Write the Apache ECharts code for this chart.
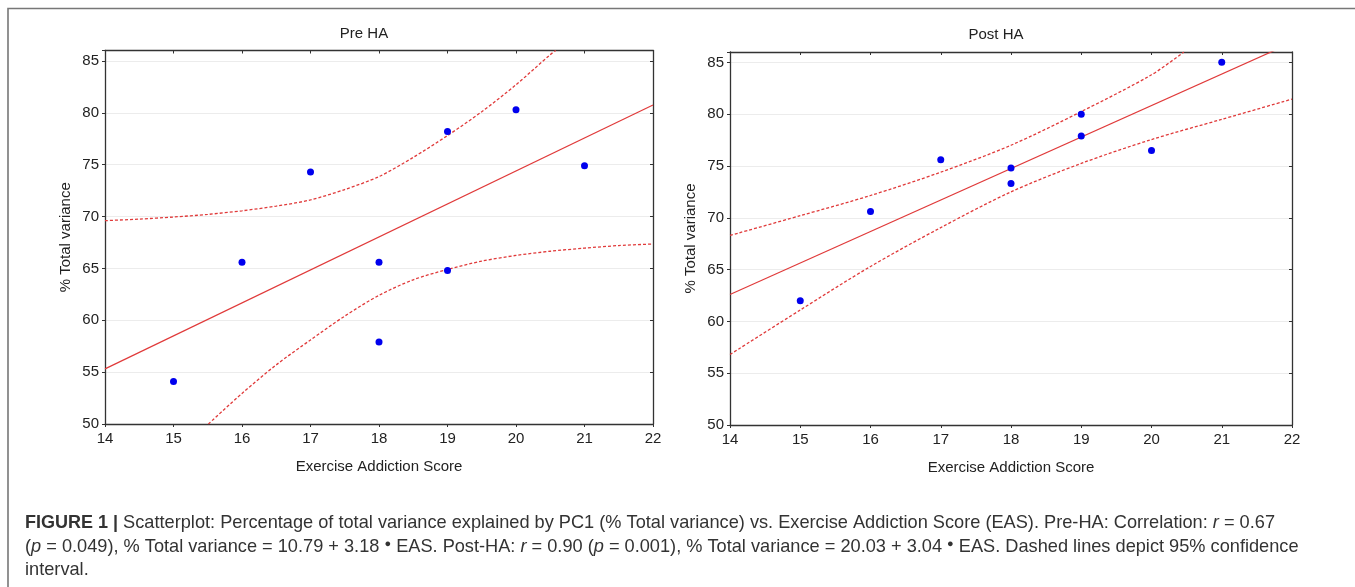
<!DOCTYPE html>
<html>
<head>
<meta charset="utf-8">
<title>Figure 1</title>
<script src="https://cdn.jsdelivr.net/npm/echarts@6/dist/echarts.min.js"></script>
<style>
  html, body { margin: 0; padding: 0; background: #fff; }
  #chart { width: 1355px; height: 587px; }
</style>
</head>
<body>
<div id="chart"></div>
<script>
// x ticks / y ticks
var xTicks = [14, 15, 16, 17, 18, 19, 20, 21, 22];
var yTicks = [50, 55, 60, 65, 70, 75, 80, 85];

// Pre HA observations
var preX = [15, 16, 17, 18, 18, 19, 19, 20, 21];
var preY = [54.1, 65.6, 74.3, 65.6, 57.9, 78.2, 64.8, 80.3, 74.9];
// fitted line (10.79 + 3.18 * EAS) at both ends of the axis
var preFitX = [14, 22];
var preFitY = [55.31, 80.75];
// 95% band
var preUpX = [14, 14.5, 15, 15.5, 16, 16.5, 17, 17.5, 18, 18.5, 19, 19.5, 20, 20.5, 20.58];
var preUpY = [69.6, 69.75, 69.95, 70.2, 70.55, 71.0, 71.6, 72.6, 73.85, 75.7, 77.8, 80.1, 82.7, 85.6, 86];
var preLoX = [15.51, 16, 16.5, 17, 17.5, 18, 18.5, 19, 19.5, 20, 20.5, 21, 21.5, 22];
var preLoY = [50, 52.95, 55.7, 58.1, 60.4, 62.4, 63.9, 64.9, 65.7, 66.25, 66.65, 66.95, 67.2, 67.35];

// Post HA observations
var postX = [15, 16, 17, 18, 18, 19, 19, 20, 21];
var postY = [62.0, 70.6, 75.6, 74.8, 73.3, 80.0, 77.9, 76.5, 85.0];
// fitted line (20.03 + 3.04 * EAS)
var postFitX = [14, 22];
var postFitY = [62.59, 86.91];
var postUpX = [14, 15, 16, 17, 18, 19, 20, 20.46];
var postUpY = [68.3, 70.2, 72.15, 74.4, 77.0, 80.25, 83.8, 86];
var postLoX = [14, 15, 16, 17, 18, 19, 20, 21, 22];
var postLoY = [56.8, 61.1, 65.3, 69.05, 72.5, 75.25, 77.55, 79.5, 81.45];

var FONT = '"Liberation Sans", Arial, sans-serif';
var RED = '#e03a3a';
var BLUE = '#0000ee';
var FRAME = '#333';

function pairs(xs, ys) {
  return xs.map(function (x, i) { return [x, ys[i]]; });
}

function xAxes(g) {
  return [
    {
      type: 'value', gridIndex: g, min: 14, max: 22, interval: 1,
      name: 'Exercise Addiction Score', nameLocation: 'middle', nameGap: 35,
      nameTextStyle: { fontFamily: FONT, fontSize: 15, color: '#222' },
      axisLine: { show: true, onZero: false, lineStyle: { color: FRAME, width: 1.3 } },
      axisTick: { show: true, inside: false, length: 3, lineStyle: { color: FRAME } },
      axisLabel: { fontFamily: FONT, fontSize: 15, color: '#222', margin: 7 },
      splitLine: { show: false }
    },
    {
      type: 'value', gridIndex: g, position: 'top', min: 14, max: 22, interval: 1,
      axisLine: { show: true, onZero: false, lineStyle: { color: FRAME, width: 1.3 } },
      axisTick: { show: true, inside: true, length: 3, lineStyle: { color: FRAME } },
      axisLabel: { show: false },
      splitLine: { show: false }
    }
  ];
}

function yAxes(g) {
  return [
    {
      type: 'value', gridIndex: g, min: 50, max: 86, interval: 5,
      name: '% Total variance', nameLocation: 'middle', nameGap: 32,
      nameTextStyle: { fontFamily: FONT, fontSize: 15, color: '#222' },
      axisLine: { show: true, onZero: false, lineStyle: { color: FRAME, width: 1.3 } },
      axisTick: { show: true, inside: false, length: 3, lineStyle: { color: FRAME } },
      axisLabel: {
        fontFamily: FONT, fontSize: 15, color: '#222', margin: 6,
        formatter: function (v) { return yTicks.indexOf(v) >= 0 ? String(v) : ''; }
      },
      splitLine: { show: true, lineStyle: { color: '#ececec', width: 1 } }
    },
    {
      type: 'value', gridIndex: g, position: 'right', min: 50, max: 86, interval: 5,
      axisLine: { show: true, onZero: false, lineStyle: { color: FRAME, width: 1.3 } },
      axisTick: { show: true, inside: true, length: 3, lineStyle: { color: FRAME } },
      axisLabel: { show: false },
      splitLine: { show: false }
    }
  ];
}

function panelSeries(axisBase, pts, fit, up, lo) {
  var common = { xAxisIndex: axisBase, yAxisIndex: axisBase, symbol: 'none', silent: true, clip: true };
  return [
    Object.assign({ type: 'line', data: fit, lineStyle: { color: RED, width: 1.2 } }, common),
    Object.assign({ type: 'line', data: up, smooth: 0.3,
      lineStyle: { color: RED, width: 1.3, type: [3, 2] } }, common),
    Object.assign({ type: 'line', data: lo, smooth: 0.3,
      lineStyle: { color: RED, width: 1.3, type: [3, 2] } }, common),
    {
      type: 'scatter', xAxisIndex: axisBase, yAxisIndex: axisBase, data: pts,
      symbol: 'circle', symbolSize: 7, itemStyle: { color: BLUE, opacity: 1 }, z: 5
    }
  ];
}

var chart = echarts.init(document.getElementById('chart'), null, { renderer: 'canvas' });

var captionStyle = {
  fontFamily: FONT, fontSize: 18.2, fill: '#333',
  rich: {
    b: { fontFamily: FONT, fontSize: 18, fontWeight: 'bold', color: '#333' },
    i: { fontFamily: FONT, fontSize: 18.2, fontStyle: 'italic', color: '#333' },
    d: { fontFamily: FONT, fontSize: 11, color: '#111', verticalAlign: 'top' }
  }
};

var captionLines = [
  '{b|FIGURE 1 |} Scatterplot: Percentage of total variance explained by PC1 (% Total variance) vs. Exercise Addiction Score (EAS). Pre-HA: Correlation: {i|r} = 0.67',
  '({i|p} = 0.049), % Total variance = 10.79 + 3.18 {d|●} EAS. Post-HA: {i|r} = 0.90 ({i|p} = 0.001), % Total variance = 20.03 + 3.04 {d|●} EAS. Dashed lines depict 95% confidence',
  'interval.'
];
var captionY = [524, 548, 571];

var option = {
  backgroundColor: '#fff',
  animation: false,
  title: [
    { text: 'Pre HA', left: 359, top: 21, textAlign: 'center',
      textStyle: { fontFamily: FONT, fontSize: 15, fontWeight: 'normal', color: '#222' } },
    { text: 'Post HA', left: 991, top: 22, textAlign: 'center',
      textStyle: { fontFamily: FONT, fontSize: 15, fontWeight: 'normal', color: '#222' } }
  ],
  grid: [
    { left: 105, right: 702, top: 50.5, bottom: 163 },
    { left: 730, right: 63, top: 52, bottom: 162 }
  ],
  xAxis: xAxes(0).concat(xAxes(1)),
  yAxis: yAxes(0).concat(yAxes(1)),
  series: panelSeries(0, pairs(preX, preY), pairs(preFitX, preFitY), pairs(preUpX, preUpY), pairs(preLoX, preLoY))
    .concat(panelSeries(2, pairs(postX, postY), pairs(postFitX, postFitY), pairs(postUpX, postUpY), pairs(postLoX, postLoY))),
  graphic: [
    { type: 'polyline', shape: { points: [[8, 587], [8, 8.5], [1355, 8.5]] },
      style: { stroke: '#777', lineWidth: 1.6, fill: null }, silent: true }
  ].concat(captionLines.map(function (t, i) {
    return {
      type: 'text', left: 25, top: captionY[i] - 10, silent: true,
      style: Object.assign({ text: t }, captionStyle)
    };
  }))
};

chart.setOption(option);
</script>
</body>
</html>
